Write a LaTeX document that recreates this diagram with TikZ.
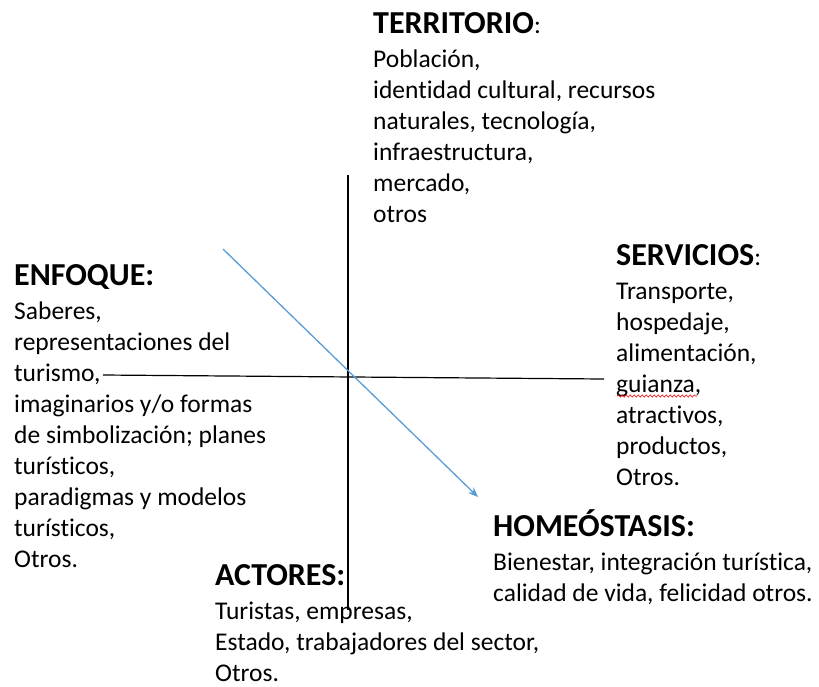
\documentclass[tikz,border=0pt]{standalone}
\usepackage{fontspec}
\setmainfont{Carlito}[Ligatures=NoCommon]
\usetikzlibrary{positioning,arrows.meta,decorations.pathmorphing}
\definecolor{flecha}{HTML}{5B9BD5}
\newcommand{\dospuntos}{{\mdseries\fontsize{25.5}{31}\selectfont:}}
\tikzset{
  titulo/.style={anchor=base west,inner sep=0pt,font=\fontsize{32}{38}\selectfont\bfseries},
  cuerpo/.style={align=left,inner sep=0pt,font=\fontsize{25.5}{31}\selectfont},
  eje/.style={black,line width=1.2pt},
}
\begin{document}
\begin{tikzpicture}[x=1pt,y=-1pt,>={Stealth[length=10pt,width=8pt]}]
  \useasboundingbox (0,0) rectangle (819,686);

  % ejes y flecha
  \coordinate (arriba) at (348,175);
  \coordinate (abajo) at (348,610);
  \coordinate (izq) at (103,375);
  \coordinate (der) at (604,379);
  \coordinate (ini) at (223,249);
  \coordinate (fin) at (478,497);
  \draw[eje] (arriba) -- (abajo);
  \draw[eje] (izq) -- (der);
  \draw[->,flecha,line width=1.3pt] (ini) -- (fin);

  \node[titulo] (territorio) at (373,33) {TERRITORIO\dospuntos};
  \node[cuerpo,below right=12.3pt and 0pt of territorio.base west] (territorioT)
    {\strut Población,\\identidad cultural, recursos\\naturales, tecnología,\\infraestructura,\\mercado,\\otros};

  \node[titulo] (enfoque) at (14,285) {ENFOQUE:};
  \node[cuerpo,below right=12.3pt and 0pt of enfoque.base west] (enfoqueT)
    {\strut Saberes,\\representaciones del\\turismo,\\imaginarios y/o formas\\de simbolización; planes\\turísticos,\\paradigmas y modelos\\turísticos,\\Otros.};

  \node[titulo] (servicios) at (616,265) {SERVICIOS\dospuntos};
  \node[cuerpo,below right=12.3pt and 0pt of servicios.base west] (serviciosT)
    {\strut Transporte,\\hospedaje,\\alimentación,\\guianza,\\atractivos,\\productos,\\Otros.};
  \draw[red,line width=0.6pt,decorate,decoration={snake,amplitude=1.1pt,segment length=4pt}]
    (617,396) -- (697,396);

  \node[titulo] (homeostasis) at (493,536) {HOMEÓSTASIS:};
  \node[cuerpo,below right=12.3pt and 0pt of homeostasis.base west] (homeostasisT)
    {\strut Bienestar, integración turística,\\calidad de vida, felicidad otros.};

  \node[titulo] (actores) at (215,585) {ACTORES:};
  \node[cuerpo,below right=12.3pt and 0pt of actores.base west] (actoresT)
    {\strut Turistas, empresas,\\Estado, trabajadores del sector,\\Otros.};
\end{tikzpicture}
\end{document}
